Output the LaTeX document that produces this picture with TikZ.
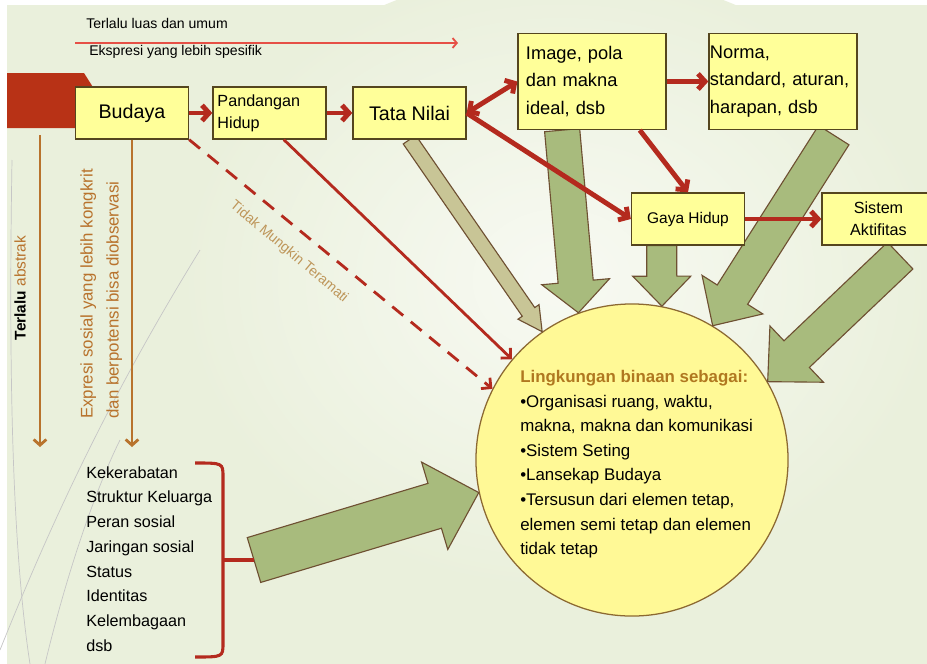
\documentclass[tikz,border=0pt]{standalone}
\usepackage{fontspec}
\setmainfont{Liberation Sans}
\usetikzlibrary{arrows.meta,calc}

\definecolor{bgcol}{RGB}{234,240,220}
\definecolor{boxfill}{RGB}{255,255,153}
\definecolor{boxline}{RGB}{85,70,30}
\definecolor{arrred}{RGB}{180,42,30}
\definecolor{topred}{RGB}{230,80,70}
\definecolor{tabred}{RGB}{184,50,22}
\definecolor{brownar}{RGB}{184,115,45}
\definecolor{titlecol}{RGB}{176,120,32}
\definecolor{tidakcol}{RGB}{190,150,90}
\definecolor{blkgreen}{RGB}{168,187,125}
\definecolor{blktan}{RGB}{200,197,150}
\definecolor{blkline}{RGB}{110,80,50}
\definecolor{circfill}{RGB}{255,249,150}
\definecolor{circline}{RGB}{140,105,50}

\pgfdeclarelayer{back}
\pgfdeclarelayer{mid}
\pgfsetlayers{back,mid,main}

\newcommand{\blockarrow}[6]{%
  \coordinate (ba-h) at ($(#3)!#6!(#2)$);
  \draw[#1] ($(#2)!#4!90:(#3)$) -- ($(ba-h)!#4!90:(#3)$) -- ($(ba-h)!#5!90:(#3)$) -- (#3)
    -- ($(ba-h)!#5!-90:(#3)$) -- ($(ba-h)!#4!-90:(#3)$) -- ($(#2)!#4!-90:(#3)$) -- cycle;
}

\begin{document}
\begin{tikzpicture}[x=0.025cm, y=-0.025cm,
    box/.style={draw=boxline, fill=boxfill, line width=0.9pt, minimum width=2.825cm, minimum height=1.3cm},
    bigbox/.style={box, minimum width=3.7cm, minimum height=2.4cm, align=left},
    redar/.style={draw=arrred, line width=3.5pt, -{Straight Barb[length=5pt,width=11pt]}},
    thinred/.style={draw=arrred, line width=2pt, -{Straight Barb[length=5pt,width=10pt]}},
    brownarr/.style={draw=brownar, line width=2pt, -{Straight Barb[length=4pt,width=9pt]}},
    greenblk/.style={draw=blkline, fill=blkgreen, line width=0.8pt},
    tanblk/.style={greenblk, fill=blktan},
    bracketline/.style={draw=arrred, line width=2.2pt}]

    \useasboundingbox (0,0) rectangle (927,664);

    \begin{pgfonlayer}{back}
        \fill[white] (0,0) rectangle (927,664);
        \fill[bgcol] (7,5) rectangle (927,664);
        \shade[inner color=white!65!bgcol, outer color=bgcol] (560,280) ellipse (380 and 310);

        \draw[gray!45, line width=0.5pt] (12,160) .. controls (8,400) and (14,560) .. (30,664);
        \draw[gray!45, line width=0.5pt] (0,650) .. controls (60,500) and (120,380) .. (200,250);
        \draw[gray!45, line width=0.5pt] (45,664) .. controls (70,560) and (100,480) .. (120,440);

        \fill[tabred] (7,73) -- (84,73) -- (96,92) -- (96,128) -- (7,128) -- cycle;

        \node[circle, draw=circline, fill=circfill, line width=0.9pt, minimum size=7.8cm, inner sep=0] (lingk) at (632,460) {};
    \end{pgfonlayer}

    \node[box, font=\fontsize{14}{17}\selectfont] (budaya) at (132,113) {Budaya};
    \node[box, align=left, text width=2.6cm, inner xsep=3pt, font=\fontsize{11.5}{15.6}\selectfont] (pand) at (269.5,113) {Pandangan\\Hidup};
    \node[box, font=\fontsize{14}{17}\selectfont] (tata) at (409.5,113) {Tata Nilai};
    \node[bigbox, text width=3.3cm, inner xsep=0.2cm, font=\fontsize{13}{19.5}\selectfont] (image) at (592,81.5) {Image,  pola\\dan makna\\ideal, dsb};
    \node[bigbox, text width=3.65cm, inner xsep=0.025cm, font=\fontsize{13}{19.5}\selectfont] (norma) at (783,81.5) {Norma,\\standard, aturan,\\harapan, dsb};
    \node[box, font=\fontsize{11}{14}\selectfont] (gaya) at (688,219) {Gaya Hidup};
    \node[box, align=center, font=\fontsize{11.5}{15.6}\selectfont] (sistem) at (878.5,219) {Sistem\\Aktifitas};

    \coordinate (imgtail) at ($(image.south west)!0.3!(image.south east)$);
    \coordinate (gayatail) at ($(gaya.south west)!0.27!(gaya.south east)$);
    \coordinate (normatail) at ($(norma.south west)!0.84!(norma.south east)+(0,5)$);
    \coordinate (sistail) at ($(sistem.south west)!0.69!(sistem.south east)+(0,10)$);
    \coordinate (brtop) at (195,463);
    \coordinate (brbot) at (195,657);
    \coordinate (brtick) at (254,560);

    \begin{pgfonlayer}{mid}
        \blockarrow{tanblk}{tata.south}{lingk.125}{0.19cm}{0.32cm}{0.6cm}
        \blockarrow{greenblk}{imgtail}{lingk.110}{0.44cm}{0.85cm}{0.78cm}
        \blockarrow{greenblk}{gayatail}{lingk.79}{0.375cm}{0.725cm}{0.75cm}
        \blockarrow{greenblk}{normatail}{lingk.59}{0.45cm}{0.9cm}{0.92cm}
        \blockarrow{greenblk}{sistail}{lingk.30}{0.46cm}{0.97cm}{1.0cm}
        \blockarrow{greenblk}{brtick}{lingk.192}{0.585cm}{1.14cm}{1.15cm}
    \end{pgfonlayer}

    \draw[redar] (budaya.east) -- (pand.west);
    \draw[redar] (pand.east) -- (tata.west);
    \draw[redar, {Straight Barb[length=5pt,width=11pt]}-{Straight Barb[length=5pt,width=11pt]}] (tata.east) -- (image.west);
    \draw[redar] (image.east) -- (norma.west);
    \draw[redar] ($(image.south west)!0.82!(image.south east)$) -- (gaya.north);
    \draw[redar] (tata.east) -- (gaya.west);
    \draw[redar] (gaya.east) -- (sistem.west);
    \draw[thinred] ($(pand.south)!0.25!(pand.south east)$) -- (lingk.140);
    \draw[thinred, dash pattern=on 10pt off 7pt] (budaya.south east) -- (lingk.153);

    \node[rotate=-40, text=tidakcol, font=\fontsize{10}{12}\selectfont] (tidak) at (289,252) {Tidak Mungkin Teramati};

    \coordinate (topl) at (75,43);
    \coordinate (topr) at (458,43);
    \draw[draw=topred, line width=1.3pt, -{Straight Barb[length=3pt,width=7pt]}] (topl) -- (topr);
    \node[anchor=west, inner sep=0, font=\fontsize{10}{12}\selectfont] (luas) at (86,23) {Terlalu luas dan umum};
    \node[anchor=west, inner sep=0, font=\fontsize{10}{12}\selectfont] (spesifik) at (89,52) {Ekspresi yang lebih spesifik};

    \coordinate (abs1) at (40,135);
    \coordinate (abs2) at (40,447);
    \coordinate (konk) at (132,447);
    \draw[brownarr] (abs1) -- (abs2);
    \draw[brownarr] (budaya.south) -- (konk);

    \node[rotate=90, font=\fontsize{11}{13}\selectfont] (abstrak) at (20,288) {\textbf{Terlalu} \textcolor{brownar}{abstrak}};
    \node[rotate=90, anchor=north west, align=left, inner sep=0, text=brownar, font=\fontsize{12}{18.5}\selectfont] (ekspresi) at (80,419) {Expresi sosial yang lebih kongkrit\\dan berpotensi bisa diobservasi};

    \node[anchor=north west, align=left, inner sep=0, font=\fontsize{11.5}{17.6}\selectfont] (sosial) at (86,466) {Kekerabatan\\Struktur Keluarga\\Peran sosial\\Jaringan sosial\\Status\\Identitas\\Kelembagaan\\dsb};
    \draw[bracketline] (brtop) .. controls (223,463) .. (223,477) -- (223,643) .. controls (223,657) .. (brbot);
    \draw[bracketline] (223,560) -- (brtick);

    \node[anchor=north west, align=left, inner sep=0, font=\fontsize{12}{17.5}\selectfont] (lingktext) at (520,370) {\textcolor{titlecol}{\bfseries Lingkungan binaan sebagai:}\\•Organisasi ruang, waktu,\\makna, makna dan komunikasi\\•Sistem Seting\\•Lansekap Budaya\\•Tersusun dari elemen tetap,\\elemen semi tetap dan elemen\\tidak tetap};
\end{tikzpicture}
\end{document}
